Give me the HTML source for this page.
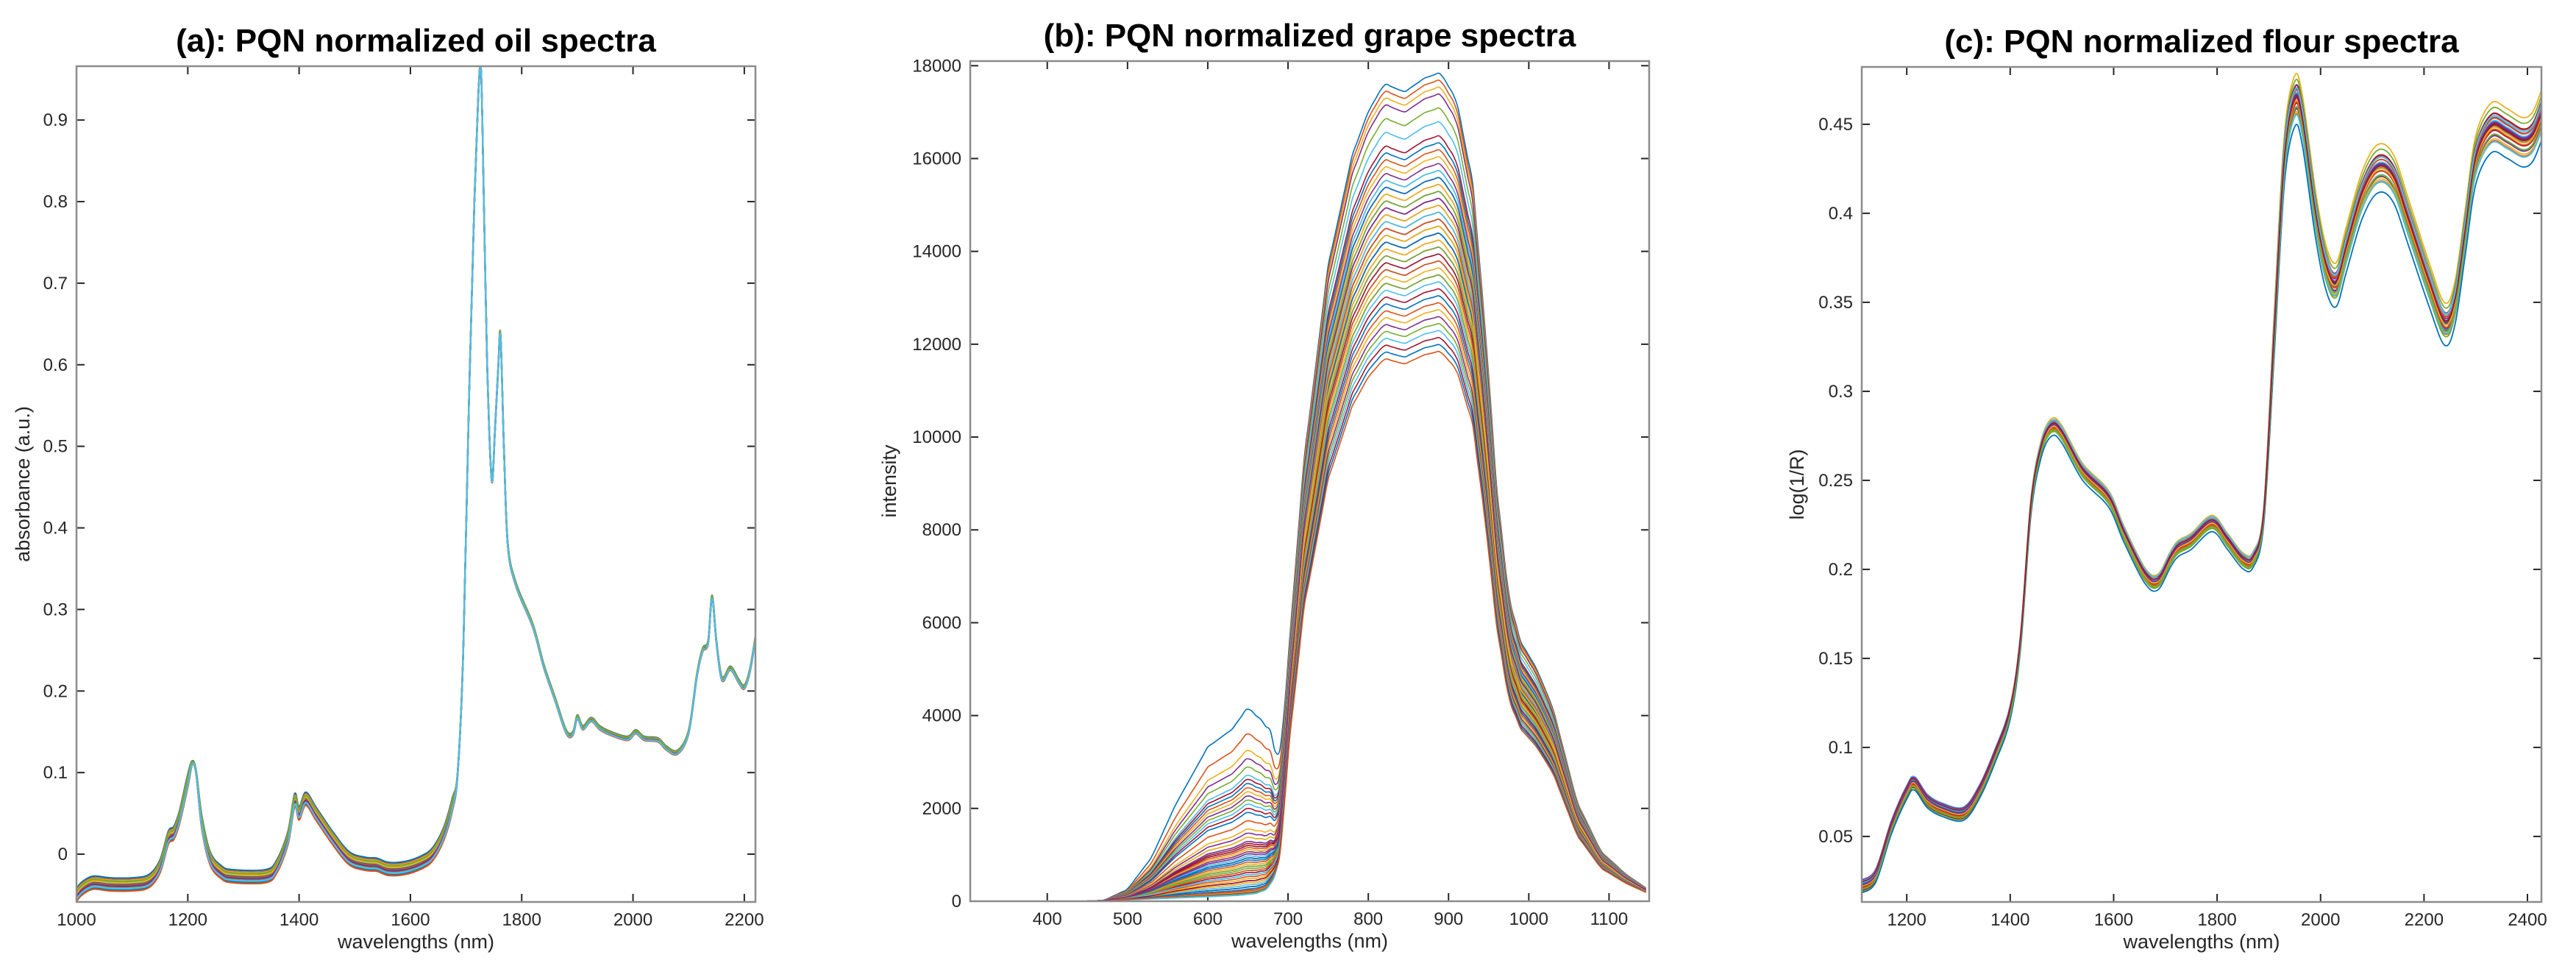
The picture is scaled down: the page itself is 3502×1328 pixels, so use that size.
<!DOCTYPE html>
<html><head><meta charset="utf-8">
<style>
html,body{margin:0;padding:0;background:#fff;}
svg{display:block;font-family:"Liberation Sans",Arial,sans-serif;}
</style></head>
<body>
<svg id="fig" width="3502" height="1328" viewBox="0 0 3502 1328" xmlns="http://www.w3.org/2000/svg">
<rect width="3502" height="1328" fill="#fff"/>
</svg>
<script>
// ---------- Panel (a) oil ----------
const oilWl = [1000,1010,1030,1060,1100,1130,1150,1165,1175,1185,1200,1208,1215,1225,1240,1260,1280,1340,1360,1380,1392,1400,1412,1430,1460,1490,1520,1540,1560,1590,1620,1640,1660,1675,1685,1695,1705,1715,1722,1727,1732,1738,1746,1752,1758,1762,1768,1775,1790,1820,1840,1860,1880,1892,1900,1910,1925,1940,1960,1990,2005,2020,2045,2060,2080,2100,2115,2125,2135,2142,2150,2160,2175,2190,2200,2210,2220];
const oilAbs = [-0.05,-0.042,-0.035,-0.037,-0.037,-0.033,-0.015,0.02,0.026,0.045,0.09,0.112,0.1,0.04,-0.005,-0.022,-0.027,-0.027,-0.015,0.02,0.066,0.05,0.068,0.05,0.02,-0.005,-0.012,-0.013,-0.018,-0.017,-0.01,0.0,0.025,0.06,0.1,0.25,0.55,0.8,0.93,0.96,0.8,0.6,0.46,0.52,0.6,0.635,0.5,0.38,0.33,0.28,0.23,0.19,0.15,0.148,0.168,0.155,0.165,0.155,0.148,0.142,0.15,0.142,0.14,0.13,0.125,0.15,0.22,0.25,0.26,0.315,0.26,0.215,0.228,0.212,0.205,0.225,0.265];
const oilOffsets = [0.008,0.006,0.005,0.004,0.003,0.002,0.001,0.0,-0.001,-0.002,-0.003,-0.004,-0.005,-0.006,-0.007,-0.008,0.002,-0.002,0.004,-0.005];
const oilXTicks = [1000,1200,1400,1600,1800,2000,2200];
const oilYTicks = [0,0.1,0.2,0.3,0.4,0.5,0.6,0.7,0.8,0.9];

// ---------- Panel (b) grape ----------
const grapeWl = [300,440,480,520,560,600,640,660,675,685,692,700,720,750,780,800,820,845,870,890,910,930,945,960,975,990,1010,1030,1060,1090,1120,1150];
const grapeBase = [0,0,20,40,60,80,110,150,250,600,1500,4000,8000,11500,13500,14300,14800,14650,14900,15000,14500,13000,10500,7500,5500,4700,4200,3500,1800,900,500,200];
const bumpWl = [300,470,500,530,560,600,630,650,668,680,690,700,720];
const bumpShape = [0,0,0.05,0.2,0.45,0.72,0.8,0.9,0.82,0.72,0.4,0.1,0];
const grapeScales = [1.19,1.18,1.17,1.16,1.14,1.12,1.1,1.09,1.08,1.07,1.06,1.05,1.05,1.04,1.04,1.03,1.03,1.02,1.02,1.01,1.01,1.0,1.0,1.0,0.99,0.99,0.99,0.98,0.98,0.98,0.97,0.97,0.97,0.96,0.96,0.96,0.95,0.95,0.94,0.94,0.93,0.93,0.92,0.92,0.91,0.9,0.9,0.89,0.88,0.87,0.86,0.85,0.84,0.83,0.82,0.81,0.8,0.79,0.97,1.01];
const grapeBumps = [4500,3900,3500,3300,3100,2900,2800,2700,2600,2500,2400,2300,2200,2100,2000,1800,1600,1500,1400,1300,1250,1200,1150,1100,1050,1000,950,900,850,800,750,700,650,600,550,500,450,400,350,300,250,200,150,100,80,60,40,20,1200,900,600,300,1000,700,500,350,200,120,1400,1300];
const grapeXTicks = [400,500,600,700,800,900,1000,1100];
const grapeYTicks = [0,2000,4000,6000,8000,10000,12000,14000,16000,18000];

// ---------- Panel (c) flour ----------
const flourWl = [1113,1140,1170,1200,1215,1240,1270,1310,1340,1370,1400,1420,1440,1460,1480,1500,1540,1590,1620,1660,1685,1710,1725,1750,1790,1820,1850,1870,1890,1910,1930,1950,1965,1990,2010,2030,2050,2080,2110,2140,2170,2210,2240,2260,2280,2300,2330,2360,2390,2410,2427];
const flourAbs = [0.022,0.028,0.055,0.075,0.08,0.07,0.065,0.063,0.075,0.095,0.12,0.16,0.235,0.268,0.28,0.276,0.255,0.24,0.22,0.197,0.193,0.206,0.212,0.216,0.226,0.216,0.205,0.206,0.23,0.33,0.43,0.463,0.452,0.4,0.37,0.36,0.38,0.41,0.425,0.42,0.395,0.36,0.338,0.35,0.39,0.43,0.448,0.445,0.44,0.443,0.455];
const flourScales = [1.03,1.025,1.02,1.018,1.015,1.012,1.01,1.008,1.006,1.004,1.002,1.0,1.0,0.998,0.996,0.994,0.992,0.99,0.988,0.986,0.984,0.982,0.98,0.978,0.975,0.972,0.97,1.005,0.995,1.001,0.999,1.003,0.997,1.007,0.993];
const flourOffsets = [-0.006,-0.004,0.005,-0.003,0.004,-0.002,0.003,-0.001,0.002,0.0,0.001,-0.005,0.006,-0.004,0.003,-0.002,0.004,0.0,-0.003,0.002,0.005,-0.006,0.001,0.003,0.006,0.004,0.005,-0.001,0.002,-0.002,0.0,0.001,-0.003,0.003,0.004];
const flourXTicks = [1200,1400,1600,1800,2000,2200,2400];
const flourYTicks = [0.05,0.1,0.15,0.2,0.25,0.3,0.35,0.4,0.45];

const COLORS = ['#0072BD','#D95319','#EDB120','#7E2F8E','#77AC30','#4DBEEE','#A2142F'];
const NS = 'http://www.w3.org/2000/svg';
const svg = document.getElementById('fig');
function mk(tag, attrs, parent){const e=document.createElementNS(NS,tag);for(const k in attrs)e.setAttribute(k,attrs[k]);(parent||svg).appendChild(e);return e;}

function interp(xs, ys, x){
  if(x<=xs[0])return ys[0]; if(x>=xs[xs.length-1])return ys[ys.length-1];
  let i=1; while(xs[i]<x)i++;
  const t=(x-xs[i-1])/(xs[i]-xs[i-1]); return ys[i-1]+t*(ys[i]-ys[i-1]);
}
function smoothPath(pts){
  let d='M'+pts[0][0].toFixed(1)+','+pts[0][1].toFixed(1);
  for(let i=0;i<pts.length-1;i++){
    const p0=pts[Math.max(0,i-1)],p1=pts[i],p2=pts[i+1],p3=pts[Math.min(pts.length-1,i+2)];
    const c1x=p1[0]+(p2[0]-p0[0])/6,c1y=p1[1]+(p2[1]-p0[1])/6;
    const c2x=p2[0]-(p3[0]-p1[0])/6,c2y=p2[1]-(p3[1]-p1[1])/6;
    d+='C'+c1x.toFixed(1)+','+c1y.toFixed(1)+' '+c2x.toFixed(1)+','+c2y.toFixed(1)+' '+p2[0].toFixed(1)+','+p2[1].toFixed(1);
  }
  return d;
}

function drawAxes(P){
  const g=mk('g',{});
  
  
  const sx=v=>P.x0+(v-P.xmin)/(P.xmax-P.xmin)*(P.x1-P.x0);
  const sy=v=>P.y1-(v-P.ymin)/(P.ymax-P.ymin)*(P.y1-P.y0);
  P.sx=sx;P.sy=sy;
  const title=mk('text',{x:(P.x0+P.x1)/2,y:P.y0-20,'text-anchor':'middle','font-size':44,'font-weight':'bold',fill:'#000'},svg);
  title.textContent=P.title;
  
  
  P.xticks.forEach(v=>{
    const x=sx(v);
    mk('line',{x1:x,y1:P.y1,x2:x,y2:P.y1-11,stroke:'#262626','stroke-width':2},g);
    mk('line',{x1:x,y1:P.y0,x2:x,y2:P.y0+11,stroke:'#262626','stroke-width':2},g);
    const t=mk('text',{x:x,y:P.y1+32,'text-anchor':'middle','font-size':24,fill:'#262626'},g);
    t.textContent=String(v);
    
    
  });
  P.yticks.forEach(v=>{
    const y=sy(v);
    mk('line',{x1:P.x0,y1:y,x2:P.x0+11,y2:y,stroke:'#262626','stroke-width':2},g);
    mk('line',{x1:P.x1,y1:y,x2:P.x1-11,y2:y,stroke:'#262626','stroke-width':2},g);
    const t=mk('text',{x:P.x0-12,y:y+8,'text-anchor':'end','font-size':24,fill:'#262626'},g);
    t.textContent=String(v);
    
    
  });
  const xl=mk('text',{x:(P.x0+P.x1)/2,y:P.y1+63,'text-anchor':'middle','font-size':27,fill:'#262626'},svg);
  xl.textContent='wavelengths (nm)';
  
  
  const yl=mk('text',{x:P.ylx,y:(P.y0+P.y1)/2,'text-anchor':'middle','font-size':27,fill:'#262626',transform:'rotate(-90 '+P.ylx+' '+(P.y0+P.y1)/2+')'},svg);
  yl.textContent=P.ylabel;
  
  
}
function drawFrame(P){
  const r=mk('rect',{x:P.x0,y:P.y0,width:P.x1-P.x0,height:P.y1-P.y0,fill:'none',stroke:'#8c8c8c','stroke-width':2.5});
  
  
}
function clipFor(P){
  const id='clip-'+P.name;
  const cp=mk('clipPath',{id:id});
  mk('rect',{x:P.x0,y:P.y0,width:P.x1-P.x0,height:P.y1-P.y0},cp);
  const g=mk('g',{'clip-path':'url(#'+id+')'});
  
  
  return g;
}
function drawSeries(P,g,series,i,w){
  const pts=series.map(([x,y])=>[P.sx(x),P.sy(y)]);
  const p=mk('path',{d:smoothPath(pts),fill:'none',stroke:COLORS[i%7],'stroke-width':w,'stroke-linejoin':'round'},g);
  
  
}

// Panel a
const PA={name:'oil',title:'(a): PQN normalized oil spectra',x0:104,x1:1027,y0:90,y1:1226,xmin:1000,xmax:2220,ymin:-0.0586,ymax:0.966,xticks:oilXTicks,yticks:oilYTicks,ylabel:'absorbance (a.u.)',ylx:40};
drawAxes(PA);
const gA=clipFor(PA);
oilOffsets.forEach((o,i)=>{
  const s=oilWl.map((w,k)=>[w,oilAbs[k]+o*(oilAbs[k]<0.1?1:0.3)]);
  drawSeries(PA,gA,s,i,2.2);
});
drawFrame(PA);

// Panel b
const PB={name:'grape',title:'(b): PQN normalized grape spectra',x0:1319,x1:2242,y0:83,y1:1225,xmin:304,xmax:1150,ymin:0,ymax:18100,xticks:grapeXTicks,yticks:grapeYTicks,ylabel:'intensity',ylx:1218};
drawAxes(PB);
const gB=clipFor(PB);
const grapeFine=[];for(let w=300;w<=1150;w+=6)grapeFine.push(w);
grapeScales.forEach((sc,i)=>{
  const b=grapeBumps[i];
  const s=grapeFine.map(w=>{
    const base=interp(grapeWl,grapeBase,w);
    const main=w<720?base*(w<690?1:sc):base*sc;
    return [w,main+b*interp(bumpWl,bumpShape,w)];
  });
  drawSeries(PB,gB,s,i,1.6);
});
drawFrame(PB);

// Panel c
const PC={name:'flour',title:'(c): PQN normalized flour spectra',x0:2531,x1:3455,y0:91,y1:1226,xmin:1113,xmax:2427,ymin:0.0132,ymax:0.4822,xticks:flourXTicks,yticks:flourYTicks,ylabel:'log(1/R)',ylx:2452};
drawAxes(PC);
const gC=clipFor(PC);
flourScales.forEach((sc,i)=>{
  const o=flourOffsets[i];
  const s=flourWl.map((w,k)=>[w,flourAbs[k]*(w>1900?sc:1+(sc-1)*0.3)+o*(w>1900?1:0.6)]);
  drawSeries(PC,gC,s,i,1.8);
});
drawFrame(PC);
</script>
</body></html>
